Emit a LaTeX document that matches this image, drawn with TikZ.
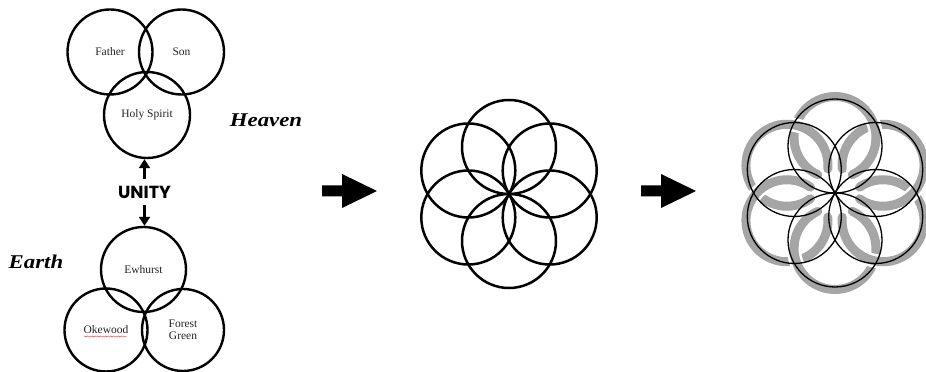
\documentclass[tikz,border=0pt]{standalone}
\usepackage{fontspec}
\setmainfont{Liberation Serif}
\newfontfamily\unityfont{Poppins}
\usetikzlibrary{arrows.meta,decorations.pathmorphing,calc}
\definecolor{ringgray}{RGB}{165,165,165}
\definecolor{txt}{RGB}{35,35,35}
\begin{document}
\begin{tikzpicture}[x=1pt,y=1pt,
  venn/.style={circle, draw, line width=2.4pt, inner sep=0pt, text=txt,
    font=\fontsize{11.5}{12}\selectfont, align=center},
  realm/.style={inner sep=0pt, font=\fontsize{19.5}{20}\selectfont\bfseries\itshape},
  vtip/.style={line width=2.6pt, -{Triangle[length=9pt,width=11pt]}},
  flowerline/.style={line width=2.5pt},
  thinflower/.style={line width=1.3pt},
  grayarc/.style={ringgray, line width=9pt, line cap=round},
  bigarrow/.style={fill=black}
]
\useasboundingbox (0,0) rectangle (926,372);

% Heaven trinity
\node[venn, minimum size=85pt] (father) at (110,320) {Father};
\node[venn, minimum size=85pt] (son) at (181.5,320) {Son};
\node[venn, minimum size=86pt] (holy) at (147,257) {Holy Spirit};
\node[realm] (heaven) at (266,252) {\scalebox{1.17}[1]{Heaven}};

% Unity
\node[inner sep=0pt, font=\unityfont\bfseries\fontsize{17.5}{18}\selectfont] (unity) at (144.5,180) {UNITY};
\draw[vtip] ([yshift=7pt]unity.north) -- (unity.north |- holy.south);

% Earth trinity
\node[venn, minimum size=85pt] (ewhurst) at (143.5,102.5) {Ewhurst};
\node[venn, minimum size=83pt] (okewood) at (106,42) {Okewood};
\node[venn, minimum size=82pt] (forest) at (183,42) {Forest\\Green};
\node[realm] (earth) at (36,110) {\scalebox{1.17}[1]{Earth}};
\draw[vtip] ([yshift=-6.5pt]unity.south) -- (unity.south |- ewhurst.north);
\draw[red!75, line width=0.45pt, decorate, decoration={snake, amplitude=0.6pt, segment length=2.6pt}]
  (84,35.5) -- (127,35.5);

% big arrows
\fill[bigarrow] (322,175.5) -- (342,175.5) -- (342,164) -- (377,181) -- (342,198) -- (342,186.5) -- (322,186.5) -- cycle;
\fill[bigarrow] (641,175.5) -- (661,175.5) -- (661,164) -- (696,181) -- (661,198) -- (661,186.5) -- (641,186.5) -- cycle;

% middle flower
\coordinate (MF) at (509,178);
\foreach \p in {30,90,150,210,270,330}
  \draw[flowerline] ($(MF)+(\p:47)$) circle[radius=47];

% right flower: gray interlaced rings
\coordinate (RF) at (835,179);
\foreach \p [evaluate=\p as \a using \p-155, evaluate=\p as \b using \p+155] in {90,30,-30,-90,-150,150}
  \draw[grayarc, shift={(RF)}, shift={(\p:55.5)}] (\a:41) arc[start angle=\a, end angle=\b, radius=41];
\foreach \p [evaluate=\p as \a using \p-93, evaluate=\p as \b using \p-50,
             evaluate=\p as \c using \p-96, evaluate=\p as \d using \p-47] in {90,30,-30,-90,-150,150} {
  \draw[white, line width=14pt, shift={(RF)}, shift={(\p:55.5)}] (\a:41) arc[start angle=\a, end angle=\b, radius=41];
  \draw[ringgray, line width=9pt, shift={(RF)}, shift={(\p:55.5)}] (\c:41) arc[start angle=\c, end angle=\d, radius=41];
}
\foreach \p in {30,90,150,210,270,330}
  \draw[thinflower] ($(RF)+(\p:47)$) circle[radius=47];
\end{tikzpicture}
\end{document}
